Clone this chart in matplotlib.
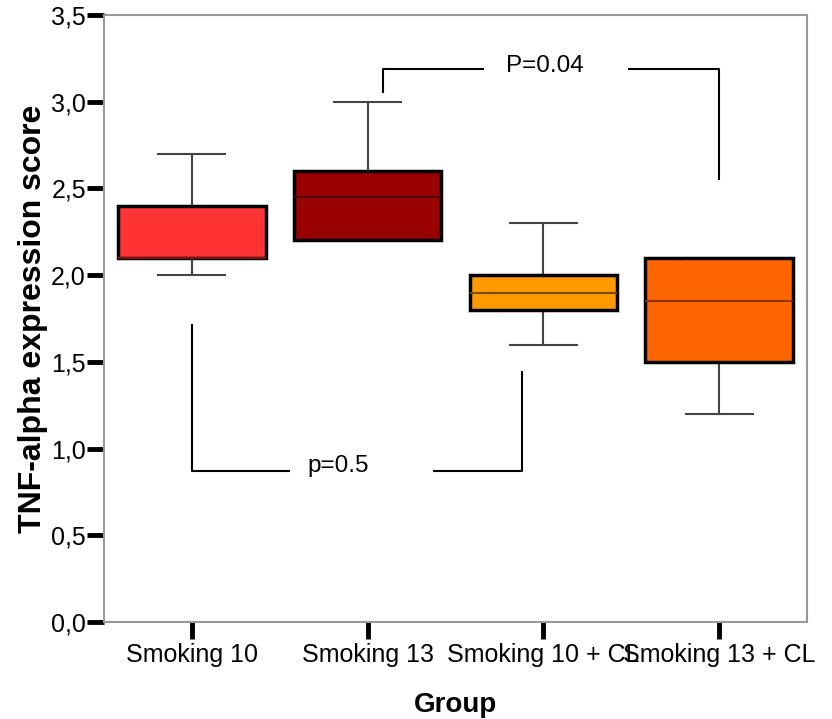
import matplotlib
matplotlib.use("Agg")
import matplotlib.pyplot as plt

plt.rcParams["font.family"] = ["Liberation Sans", "DejaVu Sans"]

# dados
grupos = ["Smoking 10", "Smoking 13", "Smoking 10 + CL", "Smoking 13 + CL"]
bigode_inf = [2.0, 2.2, 1.6, 1.2]
q1 = [2.1, 2.2, 1.8, 1.5]
mediana = [2.1, 2.45, 1.9, 1.85]
q3 = [2.4, 2.6, 2.0, 2.1]
bigode_sup = [2.7, 3.0, 2.3, 2.1]
cores = ["#FF3333", "#990000", "#FF9900", "#FF6600"]
cores_mediana = ["#7A1010", "#4A0000", "#7A4A00", "#8A3000"]
yticks = [0.0, 0.5, 1.0, 1.5, 2.0, 2.5, 3.0, 3.5]
ytick_rotulos = ["0,0", "0,5", "1,0", "1,5", "2,0", "2,5", "3,0", "3,5"]

fig = plt.figure(figsize=(8.32, 7.19), dpi=100)
ax = fig.add_axes([0.125, 0.135, 0.845, 0.844])

stats = []
for i, g in enumerate(grupos):
    stats.append(dict(label=g, whislo=bigode_inf[i], q1=q1[i], med=mediana[i],
                      q3=q3[i], whishi=bigode_sup[i], fliers=[]))

pos = list(range(1, len(grupos) + 1))
bp = ax.bxp(stats, positions=pos, widths=0.84, patch_artist=True,
            showfliers=False,
            boxprops=dict(edgecolor="black", linewidth=2.5, zorder=3),
            medianprops=dict(zorder=4),
            whiskerprops=dict(color="#444444", linewidth=1.5, zorder=2),
            capprops=dict(color="#444444", linewidth=1.5, zorder=2),
            capwidths=0.38)
for caixa, cor in zip(bp["boxes"], cores):
    caixa.set_facecolor(cor)
for med, cor in zip(bp["medians"], cores_mediana):
    med.set_color(cor)
    med.set_linewidth(1.5)

# colchetes de significancia
kw = dict(color="black", linewidth=1.5, solid_capstyle="butt")
ax.plot([2.09, 2.09, 2.66], [3.05, 3.19, 3.19], **kw)
ax.plot([3.48, 4.0, 4.0], [3.19, 3.19, 2.55], **kw)
ax.text(3.01, 3.205, "P=0.04", ha="center", va="center", fontsize=17.5)
ax.plot([1.0, 1.0, 1.56], [1.72, 0.87, 0.87], **kw)
ax.plot([2.37, 2.88, 2.88], [0.87, 0.87, 1.45], **kw)
ax.text(1.83, 0.9, "p=0.5", ha="center", va="center", fontsize=17.5)

ax.set_xlim(0.5, 4.5)
ax.set_ylim(0, 3.5)
ax.set_yticks(yticks)
ax.set_yticklabels(ytick_rotulos)
ax.set_xticks(pos)
ax.set_xticklabels(grupos)
ax.tick_params(axis="both", direction="out", length=12, width=3.5,
               color="black", labelsize=18, pad=3)
ax.tick_params(axis="y", pad=1)
for s in ax.spines.values():
    s.set_color("#999999")
    s.set_linewidth(1.5)

ax.set_xlabel("Group", fontsize=20, fontweight="bold", labelpad=18)
ax.set_ylabel("TNF-alpha expression score", fontsize=23, fontweight="bold")
ax.yaxis.set_label_coords(-0.08, 0.5)

fig.savefig("out.png", dpi=100)
plt.close(fig)
